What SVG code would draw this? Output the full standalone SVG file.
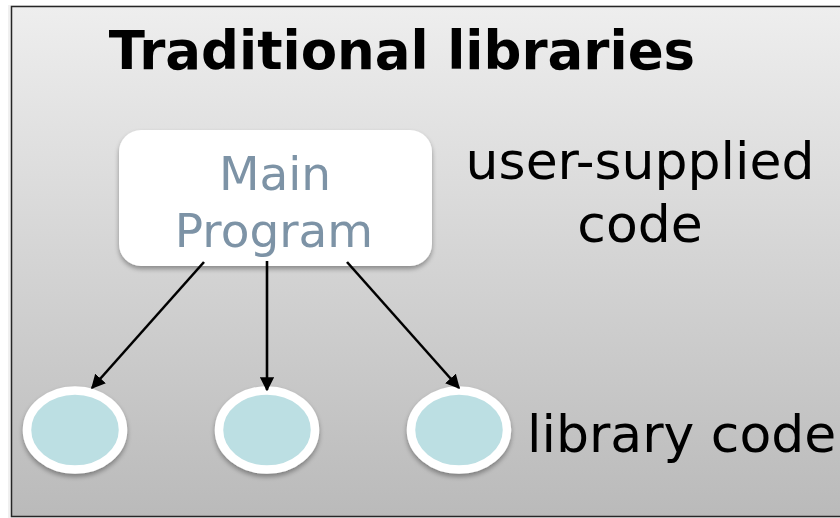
<svg xmlns="http://www.w3.org/2000/svg" width="840" height="518" viewBox="0 0 840 518">
  <defs>
    <linearGradient id="panelGrad" x1="0" y1="0" x2="0" y2="1">
      <stop offset="0" stop-color="#eeeeee"/>
      <stop offset="1" stop-color="#bababa"/>
    </linearGradient>
    <filter id="softShadow" x="-20%" y="-20%" width="140%" height="150%">
      <feGaussianBlur in="SourceAlpha" stdDeviation="2.5"/>
      <feOffset dx="0" dy="3" result="b"/>
      <feComponentTransfer><feFuncA type="linear" slope="0.35"/></feComponentTransfer>
      <feMerge><feMergeNode/><feMergeNode in="SourceGraphic"/></feMerge>
    </filter>
    <marker id="arrowHead" viewBox="0 0 10 10" refX="9" refY="5" markerWidth="5.5" markerHeight="5.5" orient="auto" markerUnits="strokeWidth">
      <path d="M0,0 L10,5 L0,10 Z" fill="#000"/>
    </marker>
    <style>
      .title { font-family: "DejaVu Sans", Verdana, sans-serif; font-weight: bold; font-size: 53px; fill: #000; }
      .label { font-family: "DejaVu Sans", Verdana, sans-serif; font-size: 52px; fill: #000; }
      .mainText { font-family: "DejaVu Sans", Verdana, sans-serif; font-size: 47px; fill: #7d93a6; }
      .lib { fill: #bcdfe3; stroke: #fff; stroke-width: 8.5; }
      .conn { stroke: #000; stroke-width: 2.6; fill: none; marker-end: url(#arrowHead); }
    </style>
  </defs>

  <!-- outer page -->
  <rect x="0" y="0" width="840" height="518" fill="#ffffff"/>
  <rect x="8" y="5" width="840" height="514" fill="#000" opacity="0.06"/>
  <!-- panel -->
  <rect x="11.5" y="6.5" width="840" height="510" fill="url(#panelGrad)" stroke="#262626" stroke-width="1.5"/>

  <text class="title" x="402" y="69" text-anchor="middle">Traditional libraries</text>

  <g id="main-program" filter="url(#softShadow)">
    <rect x="119" y="130" width="313" height="136" rx="22" ry="22" fill="#ffffff"/>
    <text class="mainText" x="275" y="190" text-anchor="middle">Main</text>
    <text class="mainText" x="274" y="247" text-anchor="middle">Program</text>
  </g>

  <g id="user-supplied-label">
    <text class="label" x="640" y="179" text-anchor="middle">user-supplied</text>
    <text class="label" x="640" y="242" text-anchor="middle">code</text>
  </g>

  <g id="lib-1" filter="url(#softShadow)">
    <ellipse class="lib" cx="75" cy="430" rx="48" ry="39.5"/>
  </g>
  <g id="lib-2" filter="url(#softShadow)">
    <ellipse class="lib" cx="267" cy="430" rx="48" ry="39.5"/>
  </g>
  <g id="lib-3" filter="url(#softShadow)">
    <ellipse class="lib" cx="459" cy="430" rx="48" ry="39.5"/>
  </g>

  <g id="library-label">
    <text class="label" x="527" y="452">library code</text>
  </g>

  <g id="connectors">
    <line class="conn" x1="204" y1="262" x2="92" y2="388"/>
    <line class="conn" x1="267" y1="261" x2="267" y2="390"/>
    <line class="conn" x1="347" y1="262" x2="459" y2="388"/>
  </g>
</svg>
